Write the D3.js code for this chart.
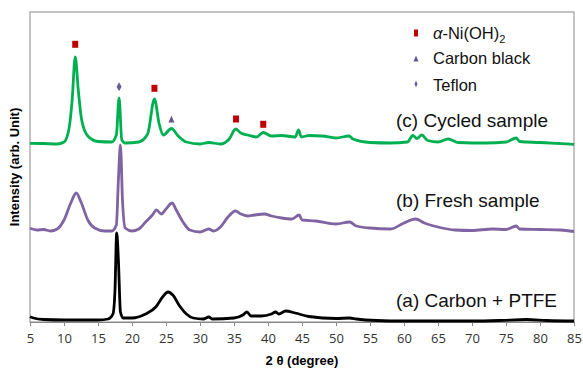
<!DOCTYPE html>
<html>
<head>
<meta charset="utf-8">
<script src="https://cdn.jsdelivr.net/npm/d3@7"></script>
<style>
  body { margin: 0; background: #fff; }
  svg text { font-family: "Liberation Sans", Arial, sans-serif; }
  .tick text { font-family: "Open Sans", "Liberation Sans", sans-serif; }
</style>
</head>
<body>
<div id="chart"></div>
<script>
const svgWidth = 583, svgHeight = 370;
const margin = {top: 12, right: 9, bottom: 48, left: 30};

const xTicks = d3.range(5, 86, 5);

// (a) Carbon + PTFE
const carbonX = [5, 5.5, 7, 10, 15, 16.5, 17.2, 17.5, 17.75, 18.0, 18.3, 18.7, 20, 22, 23.5, 24.5, 25.3, 26, 27, 28, 29, 30.5, 31.3, 31.8, 35, 36.3, 36.9, 37.5, 39, 40.5, 41.1, 41.6, 42.6, 44, 46, 50, 52, 53, 56, 60, 65, 70, 74, 78, 81, 85];
const carbonY = [5.3, 4, 2.5, 2, 2, 3, 8, 32, 89, 62, 10, 4, 4, 8, 15, 25, 30, 27, 16, 8, 4, 3, 5, 3, 4, 7, 10, 6, 6, 8, 10, 8, 11, 9, 5.5, 3.5, 4, 3, 1.5, 1, 1, 1, 1.5, 2.5, 1.5, 1];

// (b) Fresh sample
const freshX = [5, 6, 7, 8, 9, 10, 11, 11.8, 12.5, 13.5, 14.5, 16, 17, 17.7, 18.0, 18.3, 18.6, 19, 20, 21, 22, 23, 23.6, 24.3, 25, 25.9, 26.5, 27.5, 28.5, 30, 31.3, 32, 33, 34, 35.2, 36, 37, 38, 39.5, 40.5, 42, 43.5, 44.6, 45, 47, 50, 52, 53, 55, 58, 60, 61.7, 63, 65, 67.5, 70, 73, 75, 76.5, 77, 80, 83, 85];
const freshY = [93.7, 92, 92.5, 91, 93, 102, 119, 129, 120, 102, 94, 91, 91, 97, 142, 177, 122, 94, 91, 93, 100, 107, 112, 108, 113, 119, 112, 100, 92, 90, 93, 91, 95, 104, 111, 108, 106, 107, 108, 106, 104, 103, 107, 102, 101, 98, 100, 96, 94, 93, 99, 103, 99, 95, 92, 91.5, 93, 92.5, 96, 93, 92.5, 92, 90.5];

// (c) Cycled sample
const cycledX = [5, 7, 9, 10, 10.7, 11.2, 11.65, 12.1, 12.6, 13.5, 15, 17, 17.7, 18.1, 18.5, 19, 21, 22.3, 23.3, 24, 24.6, 25.8, 26.8, 28, 30, 31.3, 33, 34.3, 35.25, 36, 37, 38.3, 39.3, 40.5, 42, 44, 44.5, 44.9, 46, 48, 50, 51.9, 52.5, 55, 58, 60.5, 61.3, 61.9, 62.6, 63.5, 65, 66.5, 68, 72, 75, 76.5, 77, 80, 85];
const cycledY = [178.7, 178.5, 178, 180, 192, 222, 265, 232, 202, 186, 180.5, 180, 187, 224, 182, 179, 180, 188, 223, 198, 187, 193.5, 186, 180, 178, 179.5, 178, 183, 193, 189, 187, 185, 189.5, 186, 186.5, 185, 192, 185, 186.5, 186, 184, 186, 183, 179.5, 179, 180, 186.5, 183.5, 187, 181.5, 180, 183, 179.5, 179, 180, 184, 180.5, 179.5, 177.7];

// phase markers on the cycled pattern
const niohX = [11.65, 23.3, 35.3, 39.3];
const niohY = [277.7, 233.7, 203, 197.7];
const carbonBlackX = [25.8];
const carbonBlackY = [203];
const teflonX = [18.1];
const teflonY = [235.3];

const sampleLabels = ["(a) Carbon + PTFE", "(b) Fresh sample", "(c) Cycled sample"];
const labelY = [14.7, 115.3, 195];

const zip = (xs, ys) => xs.map((x, i) => ({x: x, y: ys[i]}));

const width = svgWidth - margin.left - margin.right,
    height = svgHeight - margin.top - margin.bottom;

const x = d3.scaleLinear().domain([5, 85]).range([0, width]);
const y = d3.scaleLinear().domain([0, 310]).range([height, 0]);

const svg = d3.select("#chart").append("svg")
    .attr("width", svgWidth)
    .attr("height", svgHeight)
  .append("g")
    .attr("transform", `translate(${margin.left},${margin.top})`);

// frame
svg.append("rect")
    .attr("x", 0).attr("y", 0)
    .attr("width", width).attr("height", height)
    .attr("fill", "none")
    .attr("stroke", "#888")
    .attr("stroke-width", 1);

const xAxis = svg.append("g")
    .attr("transform", `translate(0,${height})`)
    .call(d3.axisBottom(x).tickValues(xTicks).tickSize(4).tickPadding(8));
xAxis.select(".domain").attr("stroke", "#888");
xAxis.selectAll(".tick line").attr("stroke", "#888");
xAxis.selectAll(".tick text").attr("font-size", "13px").attr("fill", "#333");

svg.append("text")
    .attr("x", width / 2)
    .attr("y", height + 43)
    .attr("text-anchor", "middle")
    .attr("font-size", "13px")
    .attr("font-weight", "bold")
    .text("2 θ (degree)");

svg.append("text")
    .attr("transform", `translate(-11,${height / 2}) rotate(-90)`)
    .attr("text-anchor", "middle")
    .attr("font-size", "13px")
    .attr("font-weight", "bold")
    .text("Intensity (arb. Unit)");

const line = d3.line()
    .x(d => x(d.x))
    .y(d => y(d.y))
    .curve(d3.curveMonotoneX);

const series = [
    {data: zip(carbonX, carbonY), color: "#000000"},
    {data: zip(freshX, freshY), color: "#8064a2"},
    {data: zip(cycledX, cycledY), color: "#00b050"}
];

svg.selectAll(".series")
    .data(series)
    .enter().append("path")
    .attr("class", "series")
    .attr("fill", "none")
    .attr("stroke", d => d.color)
    .attr("stroke-width", 2.8)
    .attr("stroke-linejoin", "round")
    .attr("d", d => line(d.data));

svg.selectAll(".sample-label")
    .data(sampleLabels)
    .enter().append("text")
    .attr("class", "sample-label")
    .attr("x", 366)
    .attr("y", (d, i) => y(labelY[i]))
    .attr("font-size", "19px")
    .attr("fill", "#111")
    .text(d => d);

// markers
const squareSym = (w, h) => `M${-w/2},${-h/2}h${w}v${h}h${-w}Z`;
const triSym = (w, h) => `M0,${-h/2}L${w/2},${h/2}L${-w/2},${h/2}Z`;
const diaSym = (w, h) => `M0,${-h/2}L${w/2},0L0,${h/2}L${-w/2},0Z`;

svg.selectAll(".nioh")
    .data(zip(niohX, niohY))
    .enter().append("path")
    .attr("class", "nioh")
    .attr("transform", d => `translate(${x(d.x)},${y(d.y)})`)
    .attr("d", squareSym(6, 7))
    .attr("fill", "#c00000");

svg.selectAll(".cb")
    .data(zip(carbonBlackX, carbonBlackY))
    .enter().append("path")
    .attr("class", "cb")
    .attr("transform", d => `translate(${x(d.x)},${y(d.y)})`)
    .attr("d", triSym(6, 7))
    .attr("fill", "#66578f");

svg.selectAll(".teflon")
    .data(zip(teflonX, teflonY))
    .enter().append("path")
    .attr("class", "teflon")
    .attr("transform", d => `translate(${x(d.x)},${y(d.y)})`)
    .attr("d", diaSym(5, 9))
    .attr("fill", "#6a5a98");

// legend
const legend = svg.append("g").attr("transform", "translate(386,21)");
const legendItems = [
    {sym: squareSym(4, 7), color: "#c00000"},
    {sym: triSym(5, 6), color: "#66578f"},
    {sym: diaSym(3, 7), color: "#6a5a98"}
];
legend.selectAll(".lg-mark")
    .data(legendItems)
    .enter().append("path")
    .attr("transform", (d, i) => `translate(0,${i * 25.5})`)
    .attr("d", d => d.sym)
    .attr("fill", d => d.color);

const lt = legend.append("text").attr("x", 17).attr("y", 5.5).attr("font-size", "16.5px").attr("fill", "#111");
lt.append("tspan").attr("font-style", "italic").text("α");
lt.append("tspan").text("-Ni(OH)");
lt.append("tspan").attr("font-size", "11px").attr("dy", 4).text("2");
legend.append("text").attr("x", 17).attr("y", 30.5).attr("font-size", "16.5px").attr("fill", "#111").text("Carbon black");
legend.append("text").attr("x", 17).attr("y", 57.5).attr("font-size", "16.5px").attr("fill", "#111").text("Teflon");
</script>
</body>
</html>
